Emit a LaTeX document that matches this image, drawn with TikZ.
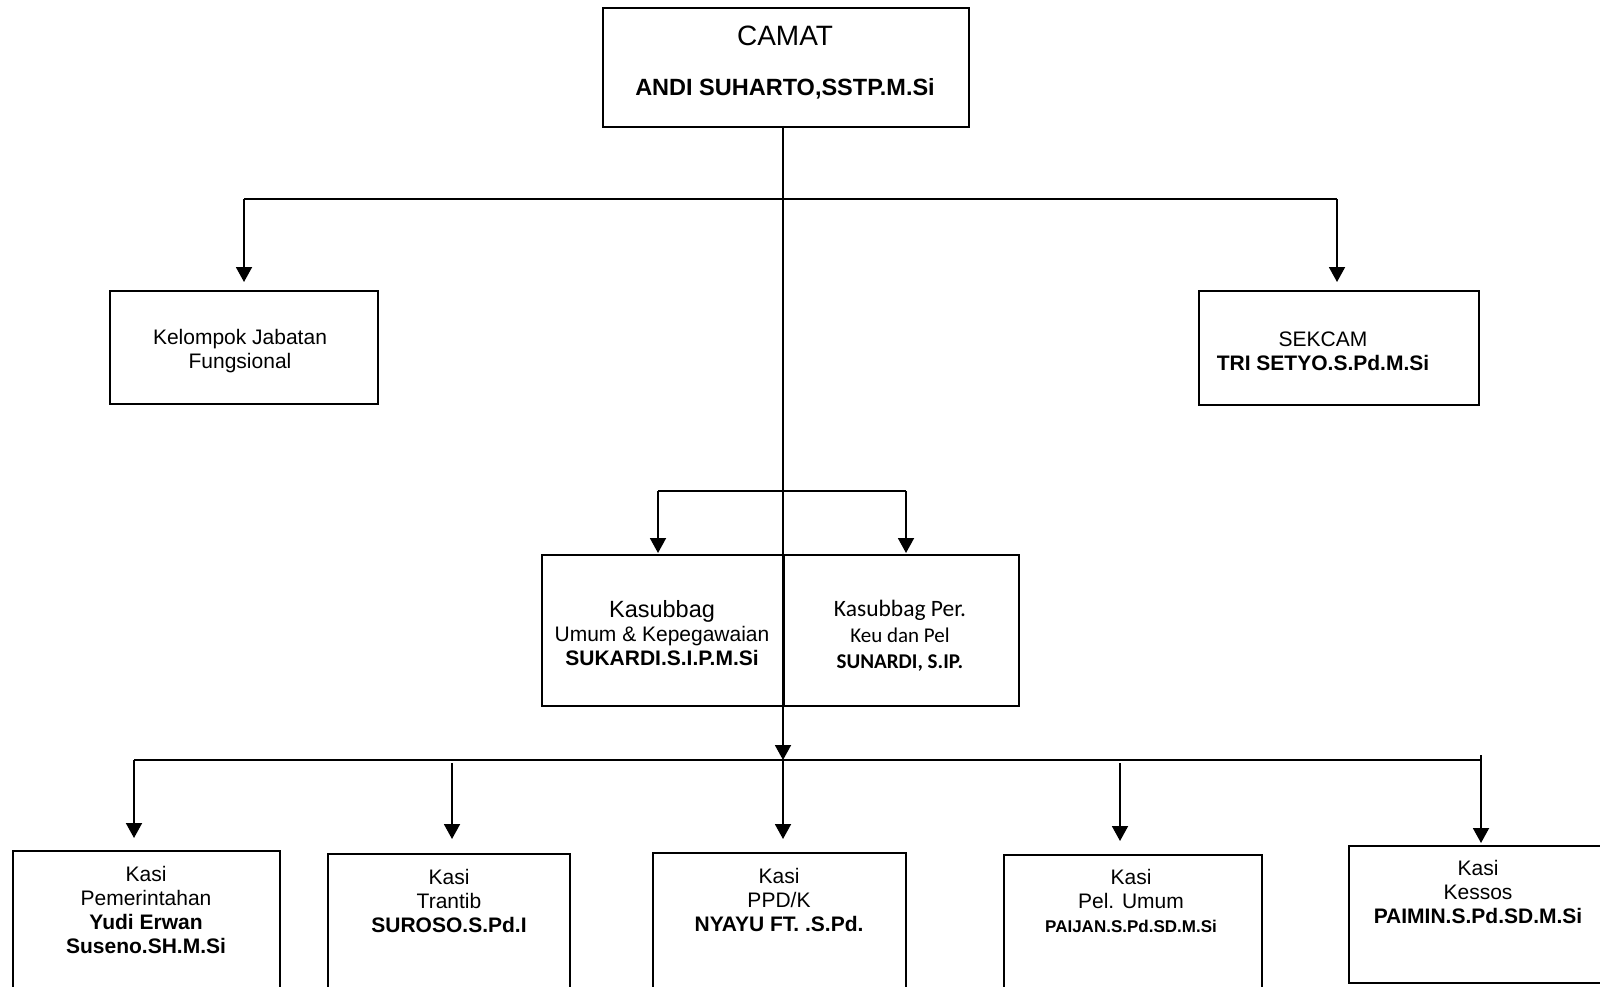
\documentclass[tikz,border=0pt]{standalone}
\usepackage{fontspec}
\setmainfont{Liberation Sans}
\newfontfamily\calib{Carlito}
\usetikzlibrary{arrows.meta}
\begin{document}
\begin{tikzpicture}[x=1pt,y=-1pt,
  box/.style={draw, line width=1.8pt, inner sep=0pt, anchor=north west},
  conn/.style={line width=1.9pt},
  arr/.style={conn, -{Triangle[length=15pt,width=16pt]}},
  txt/.style={align=center, inner sep=0pt, font=\fontsize{21}{24}\selectfont},
]
\useasboundingbox (0,0) rectangle (1600,987);
% boxes
\node[box, minimum width=366pt, minimum height=119pt] (camat) at (602,7) {};
\node[box, minimum width=268pt, minimum height=113pt] (kjf) at (109,290) {};
\node[box, minimum width=280pt, minimum height=114pt] (sekcam) at (1198,290) {};
\node[box, minimum width=242pt, minimum height=151pt] (kum) at (541,554) {};
\node[box, minimum width=235pt, minimum height=151pt] (keu) at (783,554) {};
\node[box, minimum width=267pt, minimum height=170pt] (k1) at (12,850) {};
\node[box, minimum width=242pt, minimum height=170pt] (k2) at (327,853) {};
\node[box, minimum width=253pt, minimum height=170pt] (k3) at (652,852) {};
\node[box, minimum width=258pt, minimum height=170pt] (k4) at (1003,854) {};
\node[box, minimum width=262pt, minimum height=137pt] (k5) at (1348,845) {};
% texts
\node[txt, font=\fontsize{28}{30}\selectfont] (tcamat) at (785,36) {CAMAT};
\node[txt, font=\fontsize{23.5}{26}\selectfont\bfseries] (tandi) at (785,89) {ANDI SUHARTO,SSTP.M.Si};
\node[txt] (tkjf) at (240,351) {Kelompok Jabatan\\Fungsional};
\node[txt] (tsek) at (1323,351) {SEKCAM\\\textbf{TRI SETYO.S.Pd.M.Si}};
\node[txt] (tkum) at (662,633) {{\fontsize{23.5}{24}\selectfont Kasubbag}\\Umum \& Kepegawaian\\\textbf{SUKARDI.S.I.P.M.Si}};
\node[txt, font=\fontsize{21}{26}\selectfont\calib] (tkeu) at (900,636) {{\fontsize{23.5}{26}\selectfont Kasubbag Per.}\\Keu dan Pel\\\textbf{SUNARDI, S.IP.}};
\node[txt] (t1) at (146,910) {Kasi\\Pemerintahan\\\textbf{Yudi Erwan}\\\textbf{Suseno.SH.M.Si}};
\node[txt] (t2) at (449,901) {Kasi\\Trantib\\\textbf{SUROSO.S.Pd.I}};
\node[txt] (t3) at (779,900) {Kasi\\PPD/K\\\textbf{NYAYU FT. .S.Pd.}};
\node[txt] (t4) at (1131,901) {Kasi\\Pel. Umum\\{\fontsize{17}{24}\selectfont\bfseries PAIJAN.S.Pd.SD.M.Si}};
\node[txt] (t5) at (1478,892) {Kasi\\Kessos\\\textbf{PAIMIN.S.Pd.SD.M.Si}};
% junction coordinates
\coordinate (top) at (783,126);
\coordinate (j1) at (783,199);
\coordinate (tl) at (244,199);
\coordinate (tr) at (1337,199);
\coordinate (j2) at (783,491);
\coordinate (ml) at (658,491);
\coordinate (mr) at (906,491);
\coordinate (j3) at (783,760);
\coordinate (bl) at (134,760);
\coordinate (br) at (1481,760);
\coordinate (b2) at (452,763);
\coordinate (b4) at (1120,763);
\coordinate (b5) at (1481,755);
% connectors
\draw[arr] (top) -- (j3);
\draw[conn] (tl) -- (tr);
\draw[arr, shorten >=8pt] (tl) -- (tl |- kjf.north);
\draw[arr, shorten >=8pt] (tr) -- (tr |- sekcam.north);
\draw[conn] (ml) -- (mr);
\draw[arr, shorten >=1pt] (ml) -- (ml |- kum.north);
\draw[arr, shorten >=1pt] (mr) -- (mr |- keu.north);
\draw[conn] (bl) -- (br);
\draw[arr, shorten >=12pt] (bl) -- (bl |- k1.north);
\draw[arr, shorten >=14pt] (b2) -- (b2 |- k2.north);
\draw[arr, shorten >=13pt] (j3) -- (j3 |- k3.north);
\draw[arr, shorten >=13pt] (b4) -- (b4 |- k4.north);
\draw[arr, shorten >=2pt] (b5) -- (b5 |- k5.north);
\end{tikzpicture}
\end{document}
